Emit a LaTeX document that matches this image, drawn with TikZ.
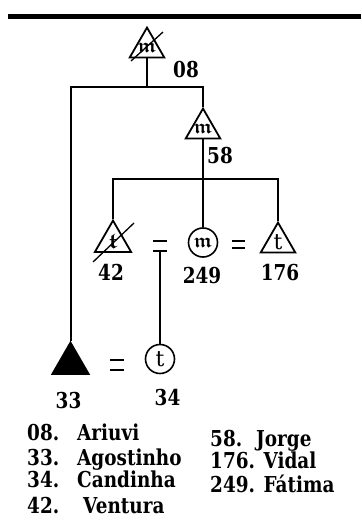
\documentclass[tikz,border=0pt]{standalone}
\usepackage{amssymb}
\usepackage{bm}
\usepackage{fontspec}
\setmainfont{DejaVu Serif}
\newfontfamily\slabfont{DejaVu Serif}[FakeStretch=0.84]
\usetikzlibrary{shapes.geometric}
\begin{document}
\begin{tikzpicture}[x=1bp,y=-1bp,
  tri/.style={draw, line width=1.8bp, regular polygon, regular polygon sides=3, inner sep=0pt, minimum size=#1},
  tri/.default=40,
  circ/.style={draw, line width=1.6bp, circle, minimum size=29bp, inner sep=0pt},
  conn/.style={line width=2bp},
  thinconn/.style={line width=1.1bp},
  lbl/.style={font=\slabfont\fontsize{22}{22}\selectfont\bfseries, anchor=base, inner sep=0pt},
  leg/.style={font=\slabfont\fontsize{22}{22}\selectfont\bfseries, anchor=base west, inner sep=0pt},
  glyph/.style={font=\fontsize{20}{20}\selectfont, inner sep=0pt},
  tglyph/.style={font=\fontsize{22}{22}\selectfont, inner sep=0pt},
  eqbar/.style={line width=1.8bp},
  slash/.style={line width=1.3bp}]
\useasboundingbox (0,0) rectangle (361,524);
\fill (8,14) rectangle (361,19);

% persons
\node[tri=40, label={[glyph]center:$\bm{\mathfrak{m}}$}] (p08) at (147,47.5) {};
\node[tri=40, label={[glyph]center:$\bm{\mathfrak{m}}$}] (p58) at (203,128.5) {};
\node[tri=42, label={[tglyph]center:$\bm{\mathfrak{t}}$}] (p42) at (113,241.5) {};
\node[circ, label={[glyph]center:$\bm{\mathfrak{m}}$}] (c249) at (203,242.5) {};
\node[tri=40, label={[tglyph]center:t}] (p176) at (278,242.5) {};
\node[tri=42, fill=black] (p33) at (70.5,363.5) {};
\node[circ, label={[tglyph]center:t}] (c34) at (160,359) {};

% deceased marks
\draw[slash] (131,61) -- (163,32);
\draw[slash] (93,262) -- (134,223);

% descent from 08
\coordinate (j08) at (147,87);
\draw[conn] (p08.south) -- (j08);
\draw[conn] (p33.north) -- (p33.north |- j08) -- (p58.north |- j08) -- (p58.north);

% descent from 58
\coordinate (j58) at (203,179);
\draw[conn] (p58.south) -- (c249.north);
\draw[conn] (p42.north) -- (p42.north |- j58) -- (p176.north |- j58) -- (p176.north);

% marriages
\draw[eqbar] (153,241) -- (167,241);
\draw[eqbar] (153,251) -- (167,251);
\coordinate (m42) at (160,251);
\draw[thinconn] (m42) -- (c34.north);
\draw[eqbar] (232,241) -- (245,241);
\draw[eqbar] (232,248) -- (245,248);
\draw[eqbar] (110,360) -- (124,360);
\draw[eqbar] (110,370) -- (124,370);

% labels
\node[lbl] (l08) at (186,78) {08};
\node[lbl] (l58) at (220,164) {58};
\node[lbl] (l42) at (111,280) {42};
\node[lbl] (l249) at (202,283) {249};
\node[lbl] (l176) at (280,280) {176};
\node[lbl] (l33) at (68.5,408) {33};
\node[lbl] (l34) at (167.5,405) {34};

% legend
\node[leg] (n08) at (27,440) {08.};
\node[leg] (a08) at (77,440) {Ariuvi};
\node[leg] (n33) at (27,465) {33.};
\node[leg] (a33) at (77,465) {Agostinho};
\node[leg] (n34) at (27,487) {34.};
\node[leg] (a34) at (77,487) {Candinha};
\node[leg] (n42) at (27,513) {42.};
\node[leg] (a42) at (83,513) {Ventura};
\node[leg] (n58) at (210,446) {58.\hspace{14bp}Jorge};
\node[leg] (n176) at (210,468) {176. Vidal};
\node[leg] (n249) at (210,492) {249. Fátima};
\end{tikzpicture}
\end{document}
